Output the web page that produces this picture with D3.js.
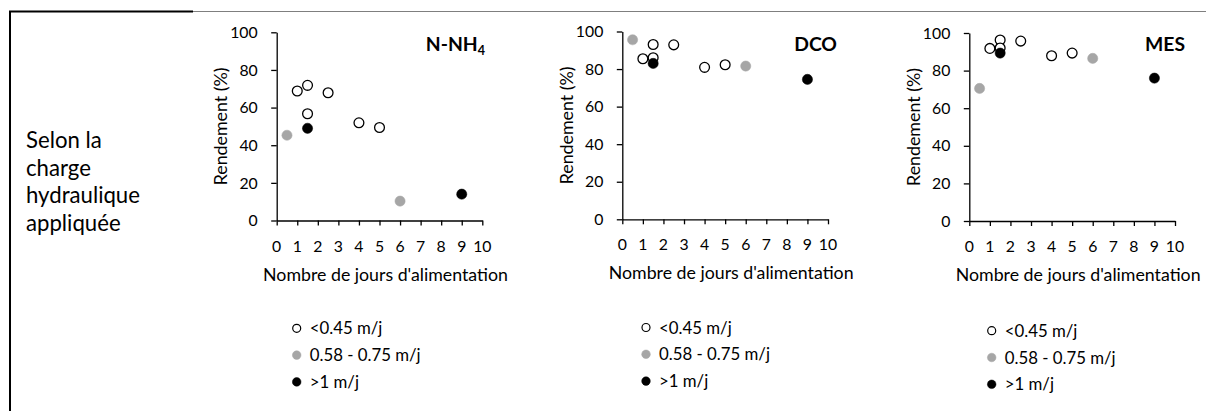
<!DOCTYPE html>
<html><head><meta charset="utf-8">
<script src="https://cdn.jsdelivr.net/npm/d3@7"></script>
<style>
html,body{margin:0;padding:0;background:#fff;}
svg{display:block;font-family:Lato,"Open Sans",sans-serif;}
</style></head>
<body>
<svg id="chart" width="1206" height="411"></svg>
<script>
// ---- data ----
const xTicks = [0,1,2,3,4,5,6,7,8,9,10];
const yTicks = [0,20,40,60,80,100];
const panelTitles = ["N-NH", "DCO", "MES"];
const titleSubs = ["4", "", ""];
const xAxisTitle = "Nombre de jours d'alimentation";
const yAxisTitle = "Rendement (%)";
const legendLabels = ["<0.45 m/j", "0.58 - 0.75 m/j", ">1 m/j"];
const rowLabel = ["Selon la", "charge", "hydraulique", "appliquée"];

const joursLow = [1, 1.5, 1.5, 2.5, 4, 5];      // <0.45 m/j
const joursMid = [0.5, 6];                      // 0.58 - 0.75 m/j
const joursHigh = [1.5, 9];                     // >1 m/j

const nnh4Low = [68.8, 71.8, 56.7, 67.9, 51.9, 49.4];
const nnh4Mid = [45.3, 10.3];
const nnh4High = [49, 14];

const dcoLow = [85.5, 93.1, 86, 92.9, 80.9, 82.3];
const dcoMid = [95.6, 81.6];
const dcoHigh = [83, 74.5];

const mesLow = [91.8, 96.3, 92, 95.7, 87.9, 89.3];
const mesMid = [70.5, 86.5];
const mesHigh = [89.3, 76];

// ---- layout ----
const layout = [
  {x0:276.7, x1:482.3, y0:220.5, y1:32.3, titleEnd:485, legX:296.7, legY:328.3},
  {x0:622.3, x1:828,   y0:219.3, y1:31.5, titleEnd:837, legX:646,   legY:327.5},
  {x0:969.3, x1:1175,  y0:221,   y1:33,   titleEnd:1185, legX:991.7, legY:330.7}
];
const values = [
  [nnh4Low, nnh4Mid, nnh4High],
  [dcoLow, dcoMid, dcoHigh],
  [mesLow, mesMid, mesHigh]
];
const jours = [joursLow, joursMid, joursHigh];
const styles = [
  {fill:"#ffffff", stroke:"#000000", sw:1.3, r:4.9},
  {fill:"#a6a6a6", stroke:"#a6a6a6", sw:0.5, r:5.1},
  {fill:"#000000", stroke:"#000000", sw:0.5, r:5.1}
];
const legStyles = [
  {fill:"#ffffff", stroke:"#000000", sw:1.2, r:4.0},
  {fill:"#a6a6a6", stroke:"#a6a6a6", sw:0.5, r:4.3},
  {fill:"#000000", stroke:"#000000", sw:0.5, r:4.3}
];

const svg = d3.select("#chart");

function fitSize(text, target, weight, base) {
  const t = svg.append("text").attr("font-size", base).attr("font-weight", weight||"normal").text(text);
  const w = t.node().getComputedTextLength();
  t.remove();
  return base * target / w;
}
const tickSize = fitSize("100", 27.5, "normal", 17);
const axTitleSize = fitSize(xAxisTitle, 245, "normal", 17);
const yTitleSize = fitSize(yAxisTitle, 118, "normal", 17);
const legSize = fitSize(legendLabels[1], 111, "normal", 17);
const rowSize = fitSize(rowLabel[2], 114, "normal", 20);
const titleSize = fitSize("MES", 40, "bold", 20);

// ---- frame ----
svg.append("line").attr("x1",10).attr("x2",10).attr("y1",11).attr("y2",411)
  .attr("stroke","#000").attr("stroke-width",2);
svg.append("line").attr("x1",9).attr("x2",193).attr("y1",11.5).attr("y2",11.5)
  .attr("stroke","#000").attr("stroke-width",2);
svg.append("line").attr("x1",193).attr("x2",1206).attr("y1",11.5).attr("y2",11.5)
  .attr("stroke","#7f7f7f").attr("stroke-width",1.2);

// row label
const rl = svg.append("text").attr("font-size", rowSize).attr("fill","#000");
rowLabel.forEach((s,i)=>{
  rl.append("tspan").attr("x",26).attr("y",148 + i*27.7).text(s);
});

// ---- panels ----
layout.forEach((L, p) => {
  const x = d3.scaleLinear().domain([0,10]).range([L.x0, L.x1]);
  const y = d3.scaleLinear().domain([0,100]).range([L.y0, L.y1]);
  const g = svg.append("g");

  const xa = g.append("g").attr("transform",`translate(0,${L.y0})`)
    .call(d3.axisBottom(x).tickValues(xTicks).tickSize(5).tickSizeOuter(0).tickPadding(0));
  xa.selectAll("text").remove();
  xa.select(".domain").attr("stroke","#000").attr("stroke-width",1.3);
  xa.selectAll(".tick line").attr("stroke","#000").attr("stroke-width",1.3);

  const ya = g.append("g").attr("transform",`translate(${L.x0},0)`)
    .call(d3.axisLeft(y).tickValues(yTicks).tickSize(5.5).tickSizeOuter(0).tickPadding(0));
  ya.selectAll("text").remove();
  ya.select(".domain").attr("stroke","#000").attr("stroke-width",1.3);
  ya.selectAll(".tick line").attr("stroke","#000").attr("stroke-width",1.3);

  // x tick labels
  g.selectAll(".xl").data(xTicks).enter().append("text")
    .attr("x", d=>x(d)).attr("y", L.y0 + 31)
    .attr("text-anchor","middle").attr("font-size", tickSize).attr("fill","#000")
    .text(d=>d);
  // y tick labels
  g.selectAll(".yl").data(yTicks).enter().append("text")
    .attr("x", L.x0 - 19).attr("y", d=>y(d)).attr("dy","0.36em")
    .attr("text-anchor","end").attr("font-size", tickSize).attr("fill","#000")
    .text(d=>d);

  // axis titles
  g.append("text").attr("x", (L.x0+L.x1)/2 + 6).attr("y", L.y0 + 60)
    .attr("text-anchor","middle").attr("font-size", axTitleSize).attr("fill","#000")
    .text(xAxisTitle);
  g.append("text")
    .attr("transform", `translate(${L.x0 - 56},${(L.y0+L.y1)/2}) rotate(-90)`)
    .attr("dy","0.35em")
    .attr("text-anchor","middle").attr("font-size", yTitleSize).attr("fill","#000")
    .text(yAxisTitle);

  // panel title
  const tt = g.append("text").attr("x", L.titleEnd).attr("y", 51)
    .attr("text-anchor","end").attr("font-size", titleSize).attr("font-weight","bold").attr("fill","#000");
  tt.append("tspan").text(panelTitles[p]);
  if (titleSubs[p]) {
    tt.append("tspan").attr("font-size", titleSize*0.65).attr("dy", 4).text(titleSubs[p]);
  }

  // points
  [0,1,2].forEach(s => {
    const st = styles[s];
    const pts = jours[s].map((j,i)=>({x:j, y:values[p][s][i]}));
    g.selectAll(".pt"+s).data(pts).enter().append("circle")
      .attr("cx", d=>x(d.x)).attr("cy", d=>y(d.y)).attr("r", st.r)
      .attr("fill", st.fill).attr("stroke", st.stroke).attr("stroke-width", st.sw);
  });

  // legend
  legendLabels.forEach((lab, i) => {
    const st = legStyles[i];
    const cy = L.legY + i*26.8;
    g.append("circle").attr("cx", L.legX).attr("cy", cy).attr("r", st.r)
      .attr("fill", st.fill).attr("stroke", st.stroke).attr("stroke-width", st.sw);
    g.append("text").attr("x", L.legX + 13).attr("y", cy).attr("dy","0.36em")
      .attr("font-size", legSize).attr("fill","#000").text(lab);
  });
});
</script>
</body></html>
